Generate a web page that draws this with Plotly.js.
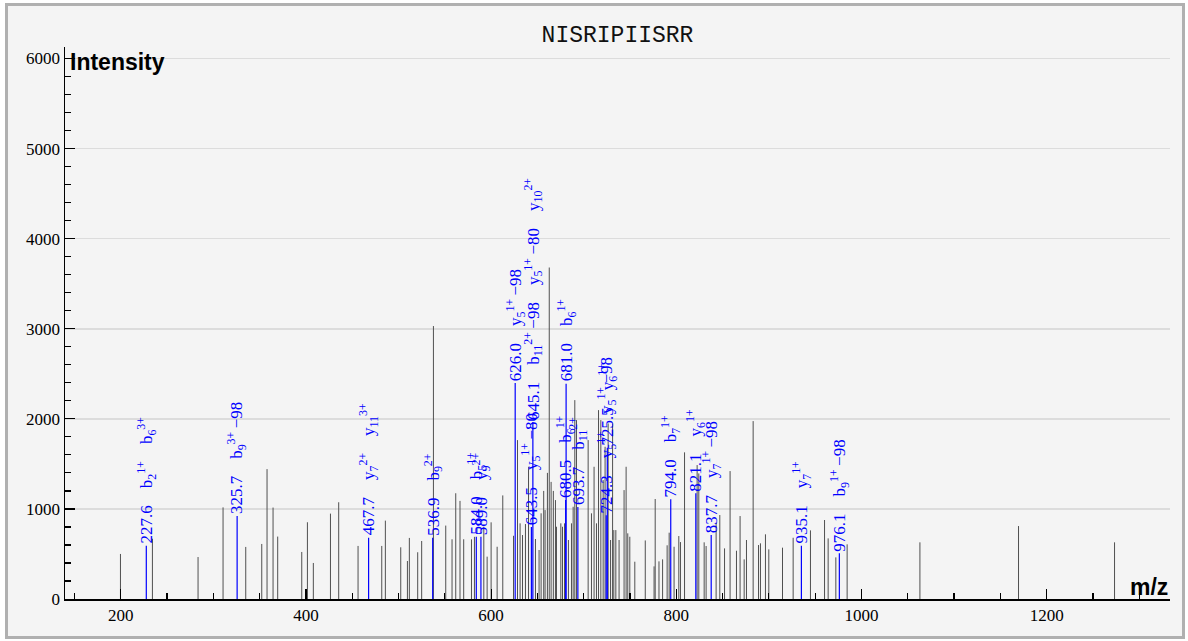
<!DOCTYPE html>
<html><head><meta charset="utf-8">
<script src="https://cdn.plot.ly/plotly-3.0.1.min.js"></script>
<style>
html,body{margin:0;padding:0;background:#fff;width:1188px;height:641px;overflow:hidden}
#frame{position:absolute;left:5px;top:3px;width:1180px;height:636px;box-sizing:border-box;border:3px solid #b0b0b0;background:#f4f4f4}
#chart{position:absolute;left:0;top:0;width:1188px;height:641px}
</style></head><body>
<div id="frame"></div><div id="chart"></div>
<script>
const chartTitle = 'NISRIPIISRR';
const yLabel = 'Intensity';
const xLabel = 'm/z';

// unmatched peaks (m/z, intensity)
const peakMz = [199.7,234.2,283.5,310.5,335.0,352.3,358.0,364.5,369.5,395.5,401.6,408.0,426.5,435.4,
  456.3,481.9,485.8,502.4,509.6,511.7,520.7,525.0,537.7,551.0,557.8,561.8,566.4,570.4,578.8,582.0,
  592.1,595.7,600.0,606.5,612.6,624.2,628.5,631.3,633.9,637.1,640.4,647.9,651.8,654.0,656.8,658.3,
  660.8,662.8,664.8,667.2,669.5,670.6,675.3,677.1,679.3,683.5,686.8,688.6,690.4,692.2,704.8,708.4,
  711.2,713.8,716.0,718.5,721.0,723.1,726.4,729.0,731.2,732.5,734.7,738.2,743.6,745.8,747.6,749.8,
  755.2,766.5,776.0,777.2,781.3,785.2,790.1,792.3,797.6,802.7,804.5,808.9,822.5,824.3,830.1,832.2,
  843.0,847.0,852.1,858.1,865.0,868.9,873.3,875.8,883.0,888.8,890.9,896.3,899.9,914.7,926.2,944.9,
  960.1,964.0,972.3,984.5,1063.1,1169.6,1273.3];
const peakInt = [500,669,466,1017,578,611,1442,1015,693,522,852,400,948,1074,
  589,589,870,574,422,678,519,644,3030,815,663,1174,1089,663,662,690,
  802,470,851,580,1150,702,1764,840,710,832,1468,666,544,951,1200,987,
  1400,3680,1300,1200,1098,802,840,802,840,655,840,1024,2208,1986,1764,951,
  1468,840,2097,1986,1320,1690,1949,655,1949,765,765,655,1209,1468,729,691,
  414,650,362,1110,418,440,596,736,580,699,632,1628,1487,1394,629,588,
  847,932,562,1420,536,921,440,655,1975,599,618,718,551,570,680,762,
  877,673,462,607,629,810,629];

// matched (annotated) peaks
const matchMz = [227.6,325.7,467.7,536.9,584.0,589.0,626.0,643.5,645.1,680.5,681.0,693.7,724.3,725.5,794.0,821.1,837.7,935.1,976.1];
const matchInt = [592,922,681,681,691,691,2397,800,1964,1100,2390,1020,930,1680,1106,1173,710,592,507];
const matchIons = ['b_2^1+|b_6^3+','b_9^3+-98','y_7^2+|y_11^3+','b_9^2+','b_5^1+','y_9^2+','y_5^1+-98','y_5^1+-80',
  'b_11^2+-98|y_5^1+-80|y_10^2+','b_6^1+','b_6^1+','b_11^2+','y_5^1+|y_5^1+-98','y_6^1+','b_7^1+','y_6^1+','y_7^1+-98','y_7^1+','b_9^1+-98'];

function ionHtml(s){
  const m = s.match(/^([a-z])_(\d+)\^(\d\+)(.*)$/);
  let out = m[1] + '<sub>' + m[2] + '</sub><sup>' + m[3] + '</sup>';
  if (m[4]) out += '\u2009\u2212' + m[4].slice(1);
  return out;
}
function stems(xs, ys){
  const X = [], Y = [];
  xs.forEach((x, i) => { X.push(x, x, null); Y.push(0, ys[i], null); });
  return {X, Y};
}
const g = stems(peakMz, peakInt);
const b = stems(matchMz, matchInt);
const GAP = '\u00a0\u00a0\u00a0\u00a0';

const traces = [
  {type:'scatter', mode:'lines', x:g.X, y:g.Y, line:{color:'#505050', width:1}, hoverinfo:'skip'},
  {type:'scatter', mode:'lines', x:b.X, y:b.Y, line:{color:'#0000ff', width:1.2}, hoverinfo:'skip'}
];

const annotations = matchMz.map((mz, i) => ({
  x: mz, y: matchInt[i], xref:'x', yref:'y', showarrow:false,
  text: mz.toFixed(1) + GAP + matchIons[i].split('|').map(ionHtml).join(GAP),
  textangle:-90, xanchor:'center', yanchor:'bottom', yshift:1, borderpad:0,
  font:{family:'Liberation Serif, serif', size:17, color:'#0000ff'}
}));
annotations.push({xref:'paper', yref:'paper', x:0, y:1, xanchor:'left', yanchor:'top', xshift:3, showarrow:false,
  text:yLabel, font:{family:'Liberation Sans, Arial, sans-serif', size:23, color:'#000', weight:'bold'}});
annotations.push({xref:'paper', yref:'paper', x:1, y:0, xanchor:'right', yanchor:'bottom', yshift:-3, showarrow:false,
  text:xLabel, font:{family:'Liberation Sans, Arial, sans-serif', size:23, color:'#000', weight:'bold'}});

const tickFont = {family:'Liberation Serif, serif', size:17, color:'#000'};
const layout = {
  width:1188, height:641,
  paper_bgcolor:'rgba(0,0,0,0)', plot_bgcolor:'#f4f4f4',
  margin:{l:65, r:18, t:47, b:42},
  showlegend:false,
  title:{text:chartTitle, font:{family:'Liberation Mono, monospace', size:23, color:'#111'},
    x:0.5, xref:'paper', y:1-34/641, yref:'container', yanchor:'middle'},
  xaxis:{range:[139.8,1333.2], tick0:0, dtick:200, ticks:'inside', ticklen:10, tickwidth:1.2, tickcolor:'#000',
    showline:true, linecolor:'#000', linewidth:1.5, showgrid:false, zeroline:false, tickfont:tickFont,
    minor:{dtick:50, tick0:0, ticks:'inside', ticklen:6, tickwidth:1.2, tickcolor:'#000', showgrid:false}, fixedrange:true},
  yaxis:{range:[0,6128], tick0:0, dtick:1000, ticks:'inside', ticklen:10, tickwidth:1.2, tickcolor:'#000',
    showline:true, linecolor:'#000', linewidth:1.5, showgrid:true, gridcolor:'#dcdcdc', gridwidth:1.5, zeroline:false,
    tickfont:tickFont,
    minor:{dtick:200, tick0:0, ticks:'inside', ticklen:6, tickwidth:1.2, tickcolor:'#000', showgrid:false}, fixedrange:true},
  annotations:annotations
};
Plotly.newPlot('chart', traces, layout, {displayModeBar:false, staticPlot:true});
</script>
</body></html>
